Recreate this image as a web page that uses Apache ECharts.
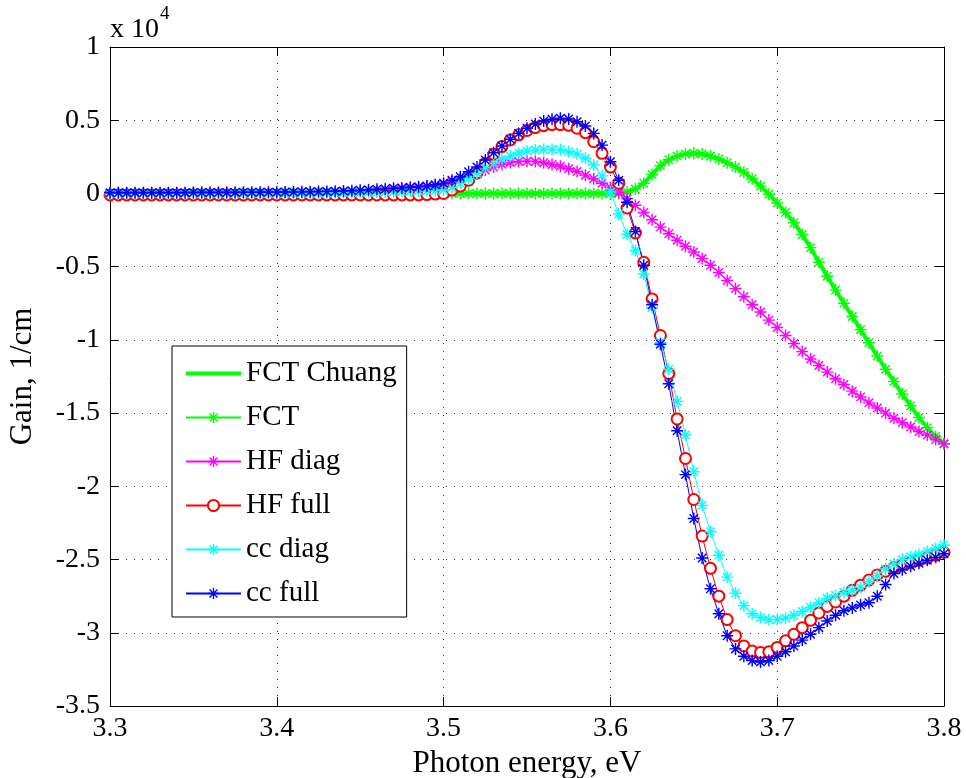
<!DOCTYPE html>
<html>
<head>
<meta charset="utf-8">
<script src="https://cdn.jsdelivr.net/npm/echarts@6/dist/echarts.min.js"></script>
<style>
html,body{margin:0;padding:0;background:#fff;}
#chart{width:966px;height:778px;}
</style>
</head>
<body>
<div id="chart"></div>
<script>
// Photon energy samples (eV)
const energy = [
3.300,3.305,3.310,3.315,3.320,3.325,3.330,3.335,3.340,3.345,
3.350,3.355,3.360,3.365,3.370,3.375,3.380,3.385,3.390,3.395,
3.400,3.405,3.410,3.415,3.420,3.425,3.430,3.435,3.440,3.445,
3.450,3.455,3.460,3.465,3.470,3.475,3.480,3.485,3.490,3.495,
3.500,3.505,3.510,3.515,3.520,3.525,3.530,3.535,3.540,3.545,
3.550,3.555,3.560,3.565,3.570,3.575,3.580,3.585,3.590,3.595,
3.600,3.605,3.610,3.615,3.620,3.625,3.630,3.635,3.640,3.645,
3.650,3.655,3.660,3.665,3.670,3.675,3.680,3.685,3.690,3.695,
3.700,3.705,3.710,3.715,3.720,3.725,3.730,3.735,3.740,3.745,
3.750,3.755,3.760,3.765,3.770,3.775,3.780,3.785,3.790,3.795,3.800];

// Gain values in units of 1e4 1/cm
const fct = [
0,0,0,0,0,0,0,0,0,0,
0,0,0,0,0,0,0,0,0,0,
0,0,0,0,0,0,0,0,0,0,
0,0,0,0,0,0,0,0,0,0,
0,0,0,0,0,0,0,0,0,0,
0,0,0,0,0,0,0,0,0,0,
0,0,0.01,0.03,0.07,0.13,0.19,0.23,0.255,0.27,
0.275,0.27,0.255,0.235,0.21,0.18,0.145,0.10,0.05,-0.005,
-0.065,-0.13,-0.20,-0.28,-0.37,-0.47,-0.565,-0.66,-0.75,-0.84,
-0.93,-1.02,-1.11,-1.20,-1.285,-1.37,-1.45,-1.53,-1.60,-1.66,-1.71];

const fctChuang = fct;

const hfDiag = [
0,0,0,0,0,0,0,0,0,0,
0,0,0,0,0,0,0,0,0,0,
0,0,0,0,0,0,0,0,0,0,
0.005,0.008,0.012,0.016,0.02,0.025,0.03,0.037,0.045,0.055,
0.065,0.08,0.095,0.115,0.135,0.16,0.18,0.20,0.212,0.218,
0.22,0.218,0.21,0.198,0.185,0.168,0.15,0.125,0.10,0.07,
0.04,0.005,-0.035,-0.08,-0.13,-0.18,-0.23,-0.275,-0.32,-0.36,
-0.40,-0.445,-0.49,-0.54,-0.595,-0.65,-0.705,-0.76,-0.81,-0.865,
-0.915,-0.97,-1.025,-1.08,-1.13,-1.175,-1.22,-1.265,-1.305,-1.35,
-1.39,-1.43,-1.465,-1.50,-1.535,-1.565,-1.595,-1.625,-1.65,-1.68,-1.71];

const hfFull = [
-0.01,-0.01,-0.01,-0.01,-0.01,-0.01,-0.01,-0.01,-0.01,-0.01,
-0.01,-0.01,-0.01,-0.01,-0.01,-0.01,-0.01,-0.01,-0.01,-0.01,
-0.01,-0.01,-0.01,-0.01,-0.01,-0.01,-0.01,-0.01,-0.01,-0.01,
-0.01,-0.01,-0.01,-0.01,-0.01,-0.01,-0.01,-0.01,-0.008,-0.004,
0.0,0.023,0.05,0.09,0.14,0.205,0.267,0.32,0.365,0.40,
0.43,0.45,0.463,0.47,0.47,0.465,0.445,0.415,0.353,0.274,
0.18,0.07,-0.10,-0.27,-0.47,-0.72,-0.97,-1.23,-1.54,-1.81,
-2.09,-2.34,-2.56,-2.75,-2.91,-3.02,-3.09,-3.125,-3.135,-3.13,
-3.10,-3.055,-3.01,-2.965,-2.915,-2.865,-2.82,-2.79,-2.75,-2.71,
-2.675,-2.64,-2.605,-2.58,-2.555,-2.535,-2.52,-2.505,-2.49,-2.47,-2.45];

const ccDiag = [
0,0,0,0,0,0,0,0,0,0,
0,0,0,0,0,0,0,0,0,0,
0,0,0.001,0.001,0.002,0.002,0.003,0.004,0.005,0.006,
0.007,0.008,0.009,0.010,0.011,0.012,0.014,0.016,0.018,0.02,
0.023,0.04,0.07,0.10,0.14,0.175,0.205,0.233,0.255,0.274,
0.29,0.296,0.30,0.30,0.298,0.285,0.269,0.24,0.194,0.12,
0.01,-0.14,-0.28,-0.39,-0.55,-0.78,-1.02,-1.20,-1.42,-1.65,
-1.90,-2.13,-2.31,-2.47,-2.62,-2.73,-2.815,-2.87,-2.895,-2.91,
-2.91,-2.90,-2.88,-2.855,-2.825,-2.795,-2.765,-2.745,-2.725,-2.71,
-2.69,-2.65,-2.61,-2.565,-2.53,-2.50,-2.48,-2.465,-2.445,-2.425,-2.40];

const ccFull = [
0.005,0.005,0.005,0.005,0.005,0.005,0.005,0.005,0.005,0.005,
0.006,0.006,0.006,0.007,0.007,0.007,0.008,0.008,0.008,0.009,
0.009,0.010,0.010,0.011,0.012,0.013,0.014,0.015,0.017,0.019,
0.022,0.025,0.028,0.031,0.035,0.038,0.042,0.046,0.051,0.059,
0.069,0.09,0.114,0.148,0.18,0.228,0.278,0.324,0.37,0.41,
0.445,0.474,0.495,0.506,0.513,0.508,0.49,0.46,0.41,0.33,
0.217,0.09,-0.06,-0.26,-0.49,-0.76,-1.03,-1.30,-1.62,-1.92,
-2.22,-2.49,-2.70,-2.87,-3.02,-3.11,-3.16,-3.19,-3.20,-3.19,
-3.16,-3.13,-3.09,-3.05,-3.01,-2.965,-2.92,-2.88,-2.85,-2.83,
-2.81,-2.795,-2.75,-2.67,-2.595,-2.57,-2.545,-2.525,-2.505,-2.485,-2.46];

const seriesNames = ['FCT Chuang','FCT','HF diag','HF full','cc diag','cc full'];
const xTicks = [3.3,3.4,3.5,3.6,3.7,3.8];
const yTicks = [-3.5,-3,-2.5,-2,-1.5,-1,-0.5,0,0.5,1];

const FONT = 'Liberation Serif';
const STAR = 'path://M0 8.8L20 8.8L20 11.2L0 11.2Z M8.8 0L11.2 0L11.2 20L8.8 20Z M2.1 3.8L3.8 2.1L17.9 16.2L16.2 17.9Z M16.2 2.1L17.9 3.8L3.8 17.9L2.1 16.2Z';

function pairs(vals){ return energy.map((e,i)=>[e, vals[i]]); }

function starSeries(name, vals, color){
  return {
    name, type:'line', data:pairs(vals),
    symbol: STAR, symbolSize: 12, showSymbol:true,
    lineStyle:{color, width:1},
    itemStyle:{color, borderWidth:0},
    z: 3
  };
}

const chart = echarts.init(document.getElementById('chart'), null, {renderer:'canvas'});
const option = {
  animation:false,
  backgroundColor:'#fff',
  grid:{left:110, top:47, right:22, bottom:72, containLabel:false, outerBoundsMode:'none'},
  legend:{
    orient:'vertical', left:172, top:346,
    backgroundColor:'#fff', borderColor:'#000', borderWidth:1,
    padding:[13,10,9,13],
    itemWidth:55, itemHeight:14, itemGap:15, itemTextGap:6,
    textStyle:{fontFamily:FONT, fontSize:29, color:'#000'},
    data:[
      {name:'FCT Chuang', icon:'path://M0 0L55 0L55 4L0 4Z'},
      'FCT','HF diag','HF full','cc diag','cc full'
    ]
  },
  xAxis:[{
    type:'value', min:xTicks[0], max:xTicks[xTicks.length-1], interval:0.1,
    name:'Photon energy, eV', nameLocation:'middle', nameGap:33,
    nameTextStyle:{fontFamily:FONT, fontSize:31, color:'#000'},
    axisLine:{show:true, onZero:false, lineStyle:{color:'#000', width:1}},
    axisTick:{show:true, inside:true, length:9, lineStyle:{color:'#000'}},
    axisLabel:{fontFamily:FONT, fontSize:28, color:'#000', margin:9,
      formatter:v=>v.toFixed(1)},
    splitLine:{show:true, lineStyle:{color:'#333', width:1, type:[1,7]}}
  },{
    type:'value', position:'top', min:xTicks[0], max:xTicks[xTicks.length-1], interval:0.1,
    axisLine:{show:true, onZero:false, lineStyle:{color:'#000', width:1}},
    axisTick:{show:true, inside:true, length:9, lineStyle:{color:'#000'}},
    axisLabel:{show:false}, splitLine:{show:false}
  }],
  yAxis:[{
    type:'value', min:yTicks[0], max:yTicks[yTicks.length-1], interval:0.5,
    name:'Gain, 1/cm', nameLocation:'middle', nameGap:72,
    nameTextStyle:{fontFamily:FONT, fontSize:31, color:'#000'},
    axisLine:{show:true, onZero:false, lineStyle:{color:'#000', width:1}},
    axisTick:{show:true, inside:true, length:9, lineStyle:{color:'#000'}},
    axisLabel:{fontFamily:FONT, fontSize:28, color:'#000', margin:10,
      formatter:v=>String(Math.round(v*10)/10)},
    splitLine:{show:true, lineStyle:{color:'#333', width:1, type:[1,7]}}
  },{
    type:'value', position:'right', min:yTicks[0], max:yTicks[yTicks.length-1], interval:0.5,
    axisLine:{show:true, onZero:false, lineStyle:{color:'#000', width:1}},
    axisTick:{show:true, inside:true, length:9, lineStyle:{color:'#000'}},
    axisLabel:{show:false}, splitLine:{show:false}
  }],
  graphic:[
    {type:'text', left:110, top:16,
     style:{text:'x 10', fontFamily:FONT, fontSize:28, fill:'#000'}},
    {type:'text', left:160, top:5,
     style:{text:'4', fontFamily:FONT, fontSize:19, fill:'#000'}}
  ],
  series:[
    {name:'FCT Chuang', type:'line', data:pairs(fctChuang), symbol:'none', showSymbol:false,
     lineStyle:{color:'#00ff00', width:4}, itemStyle:{color:'#00ff00'}, z:2},
    starSeries('FCT', fct, '#00ff00'),
    starSeries('HF diag', hfDiag, '#ff00ff'),
    {name:'HF full', type:'line', data:pairs(hfFull), symbol:'emptyCircle', symbolSize:11, showSymbol:true,
     lineStyle:{color:'#ff0000', width:1},
     itemStyle:{color:'#ff0000', borderColor:'#ff0000', borderWidth:1}, z:3},
    starSeries('cc diag', ccDiag, '#00ffff'),
    starSeries('cc full', ccFull, '#0000ff')
  ]
};
chart.setOption(option);
</script>
</body>
</html>
